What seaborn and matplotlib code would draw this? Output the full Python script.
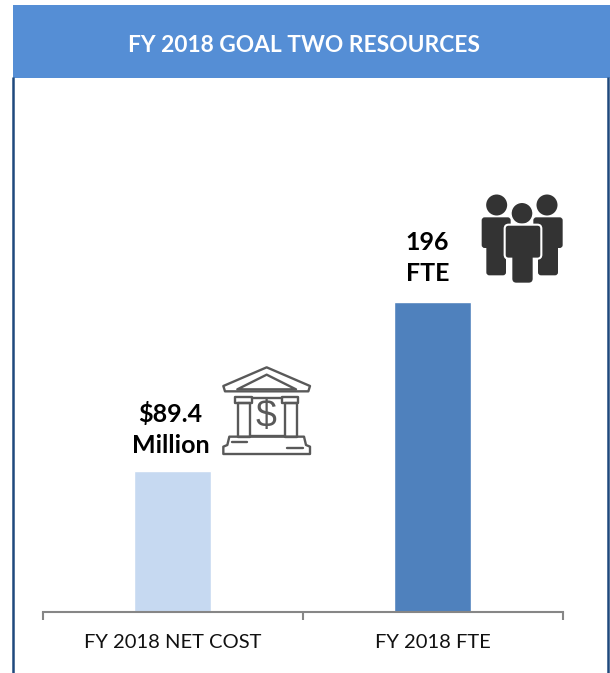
import pandas as pd
import matplotlib
matplotlib.use("Agg")
import matplotlib.pyplot as plt
from matplotlib.patches import Rectangle, Circle, FancyBboxPatch, Polygon
import seaborn as sns

# --- data ---
categories = ["FY 2018 NET COST", "FY 2018 FTE"]
values = [89.4, 196]
bar_labels = ["$89.4\nMillion", "196\nFTE"]
bar_colors = ["#C6D9F1", "#4F81BD"]
title = "FY 2018 GOAL TWO RESOURCES"

W, H = 610, 673
sns.set_theme(style="white")
plt.rcParams["font.family"] = ["Lato", "DejaVu Sans"]

fig = plt.figure(figsize=(W / 100, H / 100), dpi=100)
ax = fig.add_axes([43 / W, (H - 612) / H, 520 / W, 512 / H])

df = pd.DataFrame({"item": categories, "value": values})
sns.barplot(data=df, x="item", y="value", hue="item", palette=bar_colors,
            width=0.298, legend=False, saturation=1, ax=ax)
ax.set_xlim(-0.498, 1.502)
ax.set_ylim(0, 196 * 512 / 310)
ax.set_xlabel("")
ax.set_ylabel("")
ax.set_yticks([])
for s in ["top", "left", "right"]:
    ax.spines[s].set_visible(False)
ax.spines["bottom"].set_color("#868686")
ax.spines["bottom"].set_linewidth(1.5)

# category separators on the axis
ax.set_xticks([-0.498, 0.502, 1.502], labels=["", "", ""])
ax.tick_params(axis="x", bottom=True, length=6, width=1.5, color="#868686", direction="out", pad=0)
for i, c in enumerate(categories):
    ax.annotate(c, (i, 0), xytext=(0, -31), textcoords="offset pixels",
                ha="center", va="center", fontsize=14.5, color="#111111", annotation_clip=False)

# value labels sit a little left of the bar centres
label_shift = [(-2, 18), (-5, 21)]
for i, (v, lab) in enumerate(zip(values, bar_labels)):
    ax.annotate(lab, (i, v), xytext=label_shift[i], textcoords="offset pixels", ha="center", va="baseline",
                fontsize=18, fontweight="bold", color="black", linespacing=1.42)

# overlay in pixel coordinates for header, frame and icons
ov = fig.add_axes([0, 0, 1, 1], zorder=5)
ov.set_xlim(0, W)
ov.set_ylim(H, 0)
ov.axis("off")
ov.patch.set_alpha(0)

ov.add_patch(Rectangle((13, 5), 597, 73, color="#558ED5", lw=0))
ov.text(304, 46, title, ha="center", va="center", color="white", fontsize=16.4, fontweight="bold")
ov.plot([13, 13], [77, H], color="#1F497D", lw=1.8, solid_capstyle="butt")
ov.plot([608, 608], [77, H], color="#1F497D", lw=1.8, solid_capstyle="butt")


# bank icon
def bz(x, y):
    return 200 + x / 3, 350 + y / 3


bank = "#595959"
st = dict(fill=False, ec=bank, lw=1.7, joinstyle="round")
ov.add_patch(Polygon([bz(*p) for p in [(200, 52), (330, 108), (325, 124), (75, 124), (70, 108)]], **st))
ov.add_patch(Polygon([bz(*p) for p in [(200, 74), (288, 118), (112, 118)]], **st))
for x0 in [105, 245]:
    ov.add_patch(Rectangle(bz(x0, 140), 50 / 3, 20 / 3, **st))
    ov.add_patch(Rectangle(bz(x0 + 10, 160), 35 / 3, 100 / 3, **st))
ov.plot(*zip(bz(155, 145), bz(245, 145)), color=bank, lw=1.7)
ov.plot(*zip(bz(150, 258), bz(255, 258)), color=bank, lw=1.7)
ov.add_patch(Polygon([bz(*p) for p in [(88, 260), (312, 260), (318, 285), (330, 290), (330, 312),
                                       (70, 312), (70, 290), (82, 285)]], **st))
ov.plot(*zip(bz(95, 275), bz(140, 275)), color=bank, lw=1.7)
ov.plot(*zip(bz(262, 295), bz(310, 295)), color=bank, lw=1.7)
ov.text(*bz(198, 200), "$", ha="center", va="center", fontsize=27, color=bank, family="Liberation Sans")


# people icon
def pz(x, y):
    return 470 + x / 3, 180 + y / 3


dark = "#333333"
for cx, x0, x1 in [(80, 35, 122), (231, 190, 278)]:
    ov.add_patch(Circle(pz(cx, 75), 10.5, color=dark, lw=0))
    ov.add_patch(FancyBboxPatch(pz(x0 + 6, 118), (x1 - x0 - 12) / 3, 80 / 3,
                                boxstyle="round,pad=2,rounding_size=3", fc=dark, ec="none"))
    ov.add_patch(FancyBboxPatch(pz(x0 + 20, 190), (x1 - x0 - 40) / 3, 90 / 3,
                                boxstyle="round,pad=2,rounding_size=3", fc=dark, ec="none"))
ov.add_patch(Circle(pz(156, 100), 11, color=dark, ec="white", lw=1))
ov.add_patch(FancyBboxPatch(pz(110, 140), 98 / 3, 90 / 3,
                            boxstyle="round,pad=2,rounding_size=4", fc=dark, ec="white", lw=1.5))
ov.add_patch(FancyBboxPatch(pz(130, 220), 55 / 3, 85 / 3,
                            boxstyle="round,pad=1,rounding_size=4", fc=dark, ec="none"))

fig.savefig("out.png", dpi=100)
